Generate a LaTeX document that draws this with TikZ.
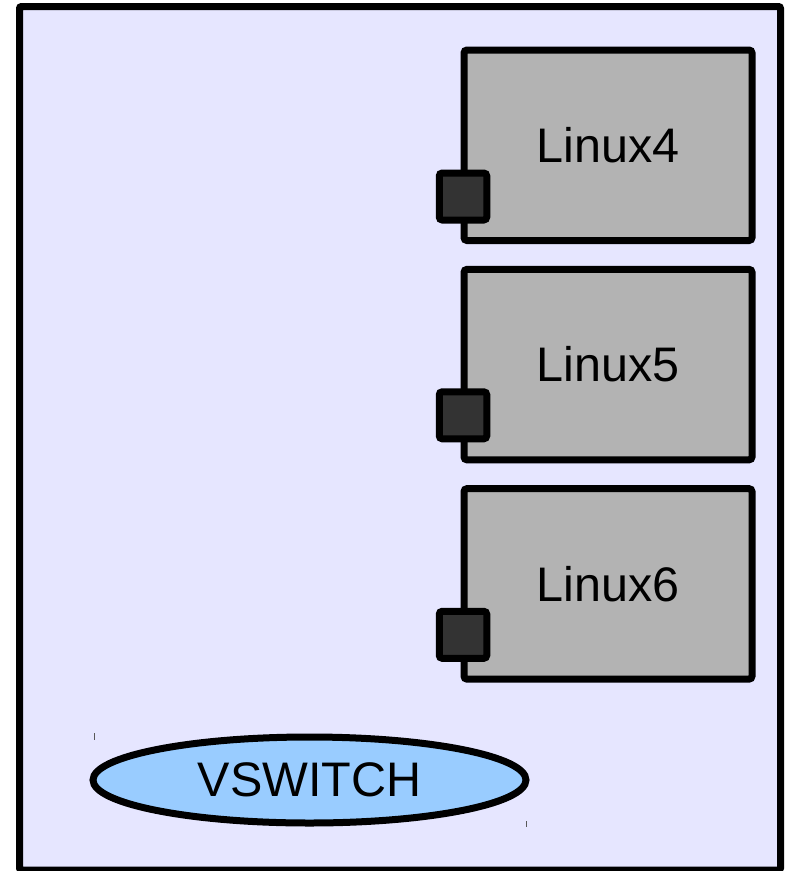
\documentclass[tikz,border=0pt]{standalone}
\usepackage{fontspec}
\setmainfont{Liberation Sans}
\usetikzlibrary{shapes.geometric}
\definecolor{bgc}{HTML}{E6E6FF}
\definecolor{boxc}{HTML}{B3B3B3}
\definecolor{portc}{HTML}{333333}
\definecolor{swc}{HTML}{99CCFF}
\newcommand{\lowtxt}[1]{\raisebox{-2.7pt}{#1}}
\tikzset{
  frame/.style={draw=black, fill=bgc, line width=7pt, rounded corners=2pt},
  vm/.style={draw=black, fill=boxc, line width=7pt, rounded corners=3pt, minimum width=288pt, minimum height=190.5pt, inner sep=0pt, font=\fontsize{48.5}{58}\selectfont, text=black},
  port/.style={draw=black, fill=portc, line width=7pt, rounded corners=3pt, minimum width=47.5pt, minimum height=47pt, inner sep=0pt},
  vsw/.style={ellipse, draw=black, fill=swc, line width=7pt, minimum width=433pt, minimum height=86pt, inner sep=0pt, font=\fontsize{48.5}{58}\selectfont},
  tick/.style={draw=black!65, line width=1pt}
}
\begin{document}
\begin{tikzpicture}[x=1pt,y=-1pt]
\useasboundingbox (0,0) rectangle (788,871);
\node[frame, minimum width=761pt, minimum height=863.5pt, inner sep=0pt] (host) at (400,438.25) {};
\node[vm] (l4) at (608,145.25) {\lowtxt{Linux4}};
\node[vm] (l5) at (608,364.6) {\lowtxt{Linux5}};
\node[vm] (l6) at (608,583.9) {\lowtxt{Linux6}};
\node[port] (p4) at (463,196.5) {};
\node[port] (p5) at (463,415.3) {};
\node[port] (p6) at (463,634.8) {};
\node[vsw] (vs) at (309.5,780) {\lowtxt{VSWITCH}};
\coordinate (t1a) at (94,733);
\coordinate (t1b) at (94,740);
\coordinate (t2a) at (526.7,821);
\coordinate (t2b) at (526.7,827);
\draw[tick] (t1a) -- (t1b);
\draw[tick] (t2a) -- (t2b);
\end{tikzpicture}
\end{document}
